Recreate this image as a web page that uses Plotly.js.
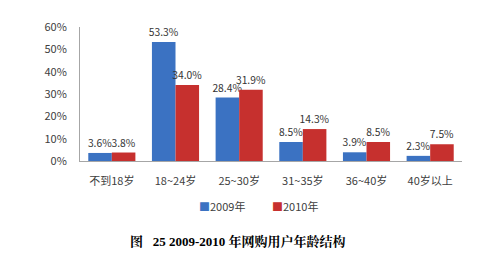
<!DOCTYPE html>
<html><head><meta charset="utf-8">
<script src="https://cdn.plot.ly/plotly-3.0.1.min.js"></script>
<style>html,body{margin:0;padding:0;background:#fff}#c{width:500px;height:268px}</style>
</head><body><div id="c"></div>
<script>
const categories = ['不到18岁','18~24岁','25~30岁','31~35岁','36~40岁','40岁以上'];
const series2009 = [3.6, 53.3, 28.4, 8.5, 3.9, 2.3];
const series2010 = [3.8, 34.0, 31.9, 14.3, 8.5, 7.5];
const seriesNames = ['2009年','2010年'];
const seriesColors = ['#3b72c2','#c6302e'];
const yTickVals = [0,10,20,30,40,50,60];
const yTickText = ['0%','10%','20%','30%','40%','50%','60%'];
const titleText = '图&nbsp;&nbsp;&nbsp;25 2009-2010 年网购用户年龄结构';

const font = 'Noto Sans CJK SC, DejaVu Sans, sans-serif';
const mk = (name, y, color) => ({
  type:'bar', name, x:categories, y,
  marker:{color, line:{width:0}},
  texttemplate:'%{y:.1f}%', textposition:'outside', cliponaxis:false, constraintext:'none',
  textfont:{size:10.3, color:'#333', family:font}
});
const data = [mk(seriesNames[0], series2009, seriesColors[0]), mk(seriesNames[1], series2010, seriesColors[1])];
const legendX = [0.372, 0.563];
const legendAnn = seriesNames.map((n,i) => ({
  text:'<span style="color:'+seriesColors[i]+'">■</span>'+n, xref:'paper', yref:'paper',
  x:legendX[i], y:-0.336, xanchor:'center', yanchor:'middle', showarrow:false,
  font:{family:font, size:11, color:'#404040'}
}));
const layout = {
  width:500, height:268,
  margin:{l:80, r:38, t:27, b:107},
  paper_bgcolor:'#fff', plot_bgcolor:'#fff',
  barmode:'group', bargap:0.26, bargroupgap:0,
  font:{family:font, size:11, color:'#404040'},
  xaxis:{showline:true, linecolor:'#a6a6a6', linewidth:1, ticks:'', showgrid:false,
         tickfont:{size:11, color:'#404040'}, ticklabelstandoff:10},
  yaxis:{range:[0,60], tickvals:yTickVals, ticktext:yTickText, showline:true, linecolor:'#a6a6a6',
         linewidth:1, showgrid:false, zeroline:false, ticks:'', ticklabelstandoff:10,
         tickfont:{size:11, color:'#404040'}},
  showlegend:false,
  annotations:legendAnn.concat([{text:'<b>'+titleText+'</b>', xref:'paper', yref:'paper', x:0.414, y:-0.6,
    xanchor:'center', yanchor:'middle', showarrow:false,
    font:{family:'Liberation Serif, Noto Serif CJK SC, Noto Sans CJK SC, serif', size:13, color:'#000'}}])
};
Plotly.newPlot('c', data, layout, {displayModeBar:false, staticPlot:true});
</script></body></html>
